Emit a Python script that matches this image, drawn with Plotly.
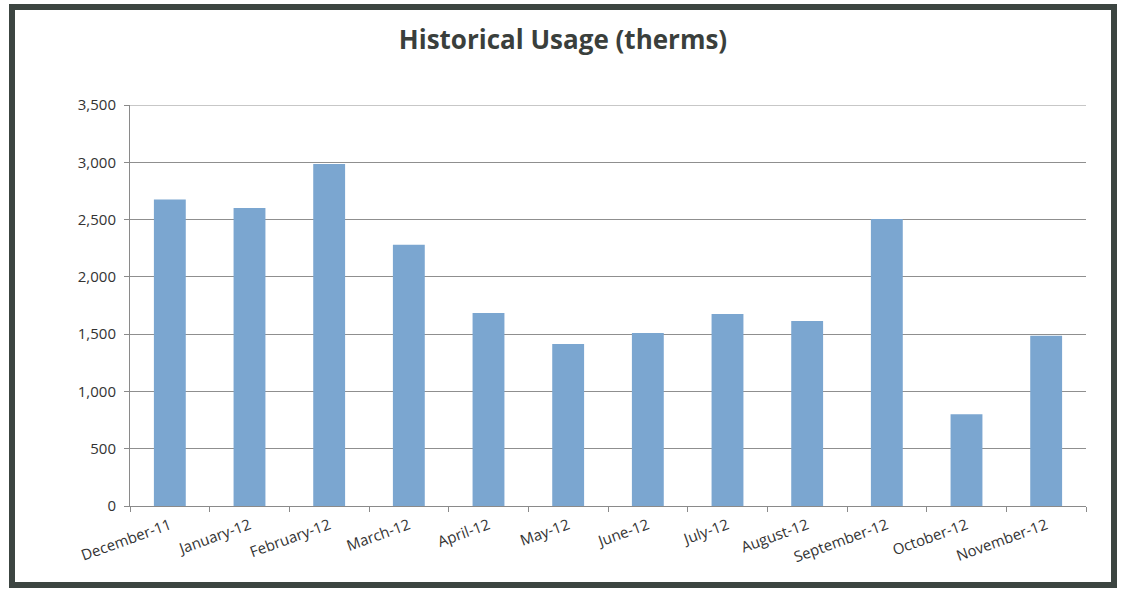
import plotly.graph_objects as go

months = ["December-11", "January-12", "February-12", "March-12", "April-12", "May-12",
          "June-12", "July-12", "August-12", "September-12", "October-12", "November-12"]
usage = [2675, 2600, 2985, 2280, 1685, 1415, 1510, 1675, 1615, 2505, 800, 1485]
y_ticks = [0, 500, 1000, 1500, 2000, 2500, 3000, 3500]
y_labels = ["0", "500", "1,000", "1,500", "2,000", "2,500", "3,000", "3,500"]

W, H = 1122, 593
L, R, T, B = 130, 36, 105, 87
pw, ph = W - L - R, H - T - B

def px(x):
    return (x - L) / pw

def py(y):
    return (H - B - y) / ph

fig = go.Figure(go.Bar(x=months, y=usage, marker=dict(color="#7ba6d0", line=dict(width=0)),
                       width=0.4))

fig.update_layout(
    width=W, height=H,
    margin=dict(l=L, r=R, t=T, b=B),
    paper_bgcolor="white", plot_bgcolor="white",
    showlegend=False,
    font=dict(family="Open Sans", color="#333333"),
    title=dict(text="<b>Historical Usage (therms)</b>", x=(563) / W, xanchor="center",
               y=1 - 40 / H, yanchor="middle",
               font=dict(family="Open Sans", size=26, color="#3a3f3c")),
    xaxis=dict(tickangle=-20, tickfont=dict(size=15, color="#333333"),
               showline=True, linecolor="#8a8a8a", linewidth=1,
               ticks="outside", ticklen=5, tickcolor="#8a8a8a", ticklabelstandoff=4,
               tickson="boundaries", showgrid=False, range=[-0.5, 11.5]),
    yaxis=dict(range=[0, 3500], tickvals=y_ticks, ticktext=y_labels,
               tickfont=dict(size=15, color="#333333"), ticklabelstandoff=5,
               showgrid=True, gridcolor="#8f8f8f", gridwidth=1,
               showline=True, linecolor="#8a8a8a", linewidth=1,
               ticks="outside", ticklen=5, tickcolor="#8a8a8a", zeroline=False),
    shapes=[
        dict(type="line", xref="paper", yref="y", x0=0, x1=1, y0=y_ticks[-1], y1=y_ticks[-1],
             line=dict(color="#8f8f8f", width=1)),
        dict(type="rect", xref="paper", yref="paper",
             x0=px(12), x1=px(1114), y0=py(7), y1=py(585),
             line=dict(color="#3c4541", width=6), fillcolor="rgba(0,0,0,0)", layer="below"),
    ],
)

fig.write_html("out.html", config={"displayModeBar": False},
               post_script="document.body.style.margin='0';document.body.style.overflow='hidden';")
